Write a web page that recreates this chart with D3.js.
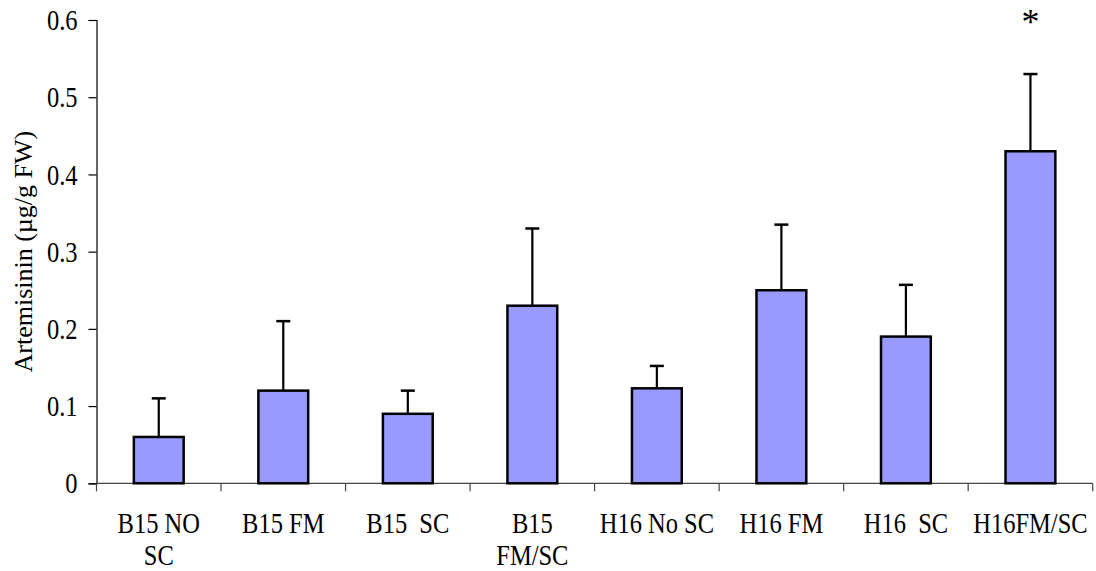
<!DOCTYPE html>
<html><head><meta charset="utf-8">
<script src="https://cdn.jsdelivr.net/npm/d3@7"></script>
<style>
html,body{margin:0;padding:0;background:#fff;}
text{font-family:"Liberation Serif","Times New Roman",serif;fill:#000;white-space:pre;}
</style></head>
<body><svg id="c" width="1096" height="571"></svg>
<script>
const categories = ["B15 NO\nSC","B15 FM","B15  SC","B15\nFM/SC","H16 No SC","H16 FM","H16  SC","H16FM/SC"];
const means = [0.06,0.12,0.09,0.23,0.123,0.25,0.19,0.43];
const errors = [0.05,0.09,0.03,0.10,0.029,0.085,0.067,0.10];
const significance = ["","","","","","","","*"];
const yTicks = [0,0.1,0.2,0.3,0.4,0.5,0.6];
const yTitle = "Artemisinin (µg/g FW)";

const svg = d3.select("#c");
const m = {left:96.5, right:1092.7, top:20, bottom:483.3};
const SY = 1.16, FS = 24.5;
const x = d3.scaleBand().domain(categories).range([m.left,m.right]).paddingInner(0.6).paddingOuter(0.3);
const y = d3.scaleLinear().domain([0,0.6]).range([m.bottom,m.top]);

// y axis
const ya = svg.append("g").attr("transform",`translate(${m.left},0)`)
  .call(d3.axisLeft(y).tickValues(yTicks).tickFormat(d=>d===0?"0":d3.format(".1f")(d)).tickSize(8).tickPadding(11));
ya.attr("font-family",null).attr("font-size",null);
ya.select(".domain").attr("stroke","#000").attr("stroke-width",1.2);
ya.selectAll(".tick line").attr("stroke","#000").attr("stroke-width",1.2);
ya.selectAll(".tick text").attr("font-size",FS)
  .attr("dy",null).attr("y",0).attr("dominant-baseline","central")
  .attr("transform",`scale(1,${SY})`);

// x axis
const band = x.step();
const xa = svg.append("g").attr("transform",`translate(0,${m.bottom})`);
xa.append("line").attr("x1",m.left).attr("x2",m.right).attr("stroke","#444").attr("stroke-width",1.2);
const bounds = categories.map(c=>x(c) - (band - x.bandwidth())/2);
bounds.push(m.right);
xa.selectAll("line.t").data(bounds).join("line").attr("class","t")
  .attr("x1",d=>d).attr("x2",d=>d).attr("y1",0).attr("y2",8).attr("stroke","#444").attr("stroke-width",1.2);
const lab = xa.selectAll("g.lab").data(categories).join("g").attr("class","lab")
  .attr("transform",d=>`translate(${x(d)+x.bandwidth()/2},49.5) scale(1,${SY})`);
lab.each(function(d){
  const g=d3.select(this);
  d.split("\n").forEach((s,i)=>{
    g.append("text").attr("text-anchor","middle").attr("font-size",FS).attr("y",i*28).text(s);
  });
});

// bars
svg.selectAll("rect.bar").data(categories).join("rect").attr("class","bar")
  .attr("x",d=>x(d)).attr("width",x.bandwidth())
  .attr("y",(d,i)=>y(means[i])).attr("height",(d,i)=>y(0)-y(means[i]))
  .attr("fill","#9999FF").attr("stroke","#000").attr("stroke-width",2.5);

// error bars
const eb = svg.selectAll("g.eb").data(categories).join("g").attr("class","eb");
eb.append("line").attr("x1",d=>x(d)+x.bandwidth()/2).attr("x2",d=>x(d)+x.bandwidth()/2)
  .attr("y1",(d,i)=>y(means[i])).attr("y2",(d,i)=>y(means[i]+errors[i]))
  .attr("stroke","#000").attr("stroke-width",2.2);
eb.append("line").attr("x1",d=>x(d)+x.bandwidth()/2-7).attr("x2",d=>x(d)+x.bandwidth()/2+7)
  .attr("y1",(d,i)=>y(means[i]+errors[i])).attr("y2",(d,i)=>y(means[i]+errors[i]))
  .attr("stroke","#000").attr("stroke-width",2.5);

// significance
svg.selectAll("text.sig").data(categories).join("text").attr("class","sig")
  .attr("transform",(d,i)=>`translate(${x(d)+x.bandwidth()/2},${y(means[i]+errors[i])-40})`)
  .attr("text-anchor","middle").attr("font-size",36).text((d,i)=>significance[i]);

// y title
svg.append("text").attr("transform",`translate(32,${(m.top+m.bottom)/2}) rotate(-90)`)
  .attr("text-anchor","middle").attr("font-size",26).text(yTitle);
</script></body></html>
